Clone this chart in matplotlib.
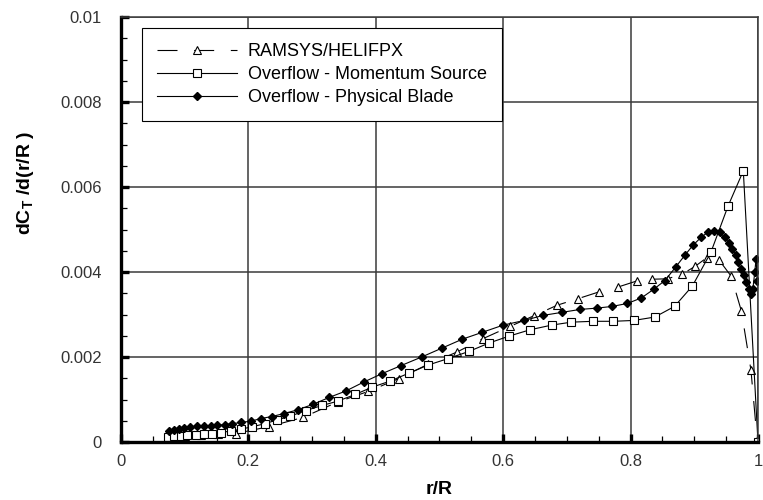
import matplotlib
matplotlib.use("Agg")
import matplotlib.pyplot as plt
from matplotlib.ticker import MultipleLocator

plt.rcParams['font.family'] = ['Liberation Sans', 'DejaVu Sans']
plt.rcParams['mathtext.fontset'] = 'custom'
plt.rcParams['mathtext.rm'] = 'Liberation Sans'
plt.rcParams['mathtext.bf'] = 'Liberation Sans:bold'

# RAMSYS/HELIFPX (triangles, dashed)
ram_x = [0.075, 0.100, 0.126, 0.152, 0.180, 0.232, 0.286, 0.340, 0.388, 0.436, 0.482,
         0.528, 0.568, 0.611, 0.648, 0.685, 0.717, 0.750, 0.781, 0.810, 0.834, 0.858,
         0.881, 0.901, 0.920, 0.939, 0.958, 0.974, 0.989, 0.999]
ram_y = [0.00012, 0.00014, 0.00016, 0.00018, 0.00020, 0.00036, 0.00058, 0.00094, 0.00119,
         0.00149, 0.00183, 0.00212, 0.00243, 0.00272, 0.00297, 0.00322, 0.00337, 0.00353,
         0.00365, 0.00379, 0.00383, 0.00384, 0.00395, 0.00413, 0.00434, 0.00428, 0.00390,
         0.00308, 0.00169, 0.0]

# Overflow - Momentum Source (open squares)
mom_x = [0.073, 0.083, 0.094, 0.104, 0.117, 0.130, 0.143, 0.157, 0.172, 0.188, 0.206,
         0.226, 0.245, 0.266, 0.290, 0.316, 0.340, 0.368, 0.394, 0.422, 0.452, 0.482,
         0.513, 0.546, 0.578, 0.609, 0.642, 0.676, 0.707, 0.741, 0.773, 0.805, 0.838,
         0.869, 0.897, 0.926, 0.953, 0.977, 1.0]
mom_y = [0.00012, 0.00013, 0.00015, 0.00016, 0.00017, 0.00019, 0.00020, 0.00022, 0.00026,
         0.00030, 0.00036, 0.00043, 0.00052, 0.00061, 0.00074, 0.00086, 0.00096, 0.00112,
         0.00129, 0.00143, 0.00162, 0.00181, 0.00196, 0.00213, 0.00233, 0.00249, 0.00264,
         0.00275, 0.00282, 0.00284, 0.00284, 0.00286, 0.00294, 0.00319, 0.00367, 0.00446,
         0.00555, 0.00638, 0.0]

# Overflow - Physical Blade (filled diamonds)
phy_x = [0.075, 0.083, 0.091, 0.099, 0.109, 0.120, 0.130, 0.141, 0.151, 0.163, 0.175,
         0.188, 0.204, 0.219, 0.237, 0.256, 0.278, 0.302, 0.327, 0.353, 0.381, 0.410,
         0.440, 0.472, 0.504, 0.536, 0.567, 0.600, 0.633, 0.663, 0.692, 0.721, 0.747,
         0.771, 0.795, 0.817, 0.836, 0.854, 0.871, 0.885, 0.898, 0.911, 0.921, 0.931,
         0.940, 0.948, 0.954, 0.960, 0.965, 0.969, 0.973, 0.978, 0.982, 0.986, 0.989,
         0.992, 0.995, 0.997, 0.999]
phy_y = [0.00025, 0.00029, 0.00031, 0.00033, 0.00035, 0.00037, 0.00038, 0.00038, 0.00039,
         0.00041, 0.00043, 0.00046, 0.00049, 0.00055, 0.00060, 0.00067, 0.00076, 0.00089,
         0.00105, 0.00120, 0.00141, 0.00161, 0.00180, 0.00200, 0.00221, 0.00242, 0.00258,
         0.00275, 0.00286, 0.00298, 0.00305, 0.00312, 0.00315, 0.00319, 0.00326, 0.00339,
         0.00359, 0.00380, 0.00412, 0.00439, 0.00463, 0.00482, 0.00493, 0.00496, 0.00493,
         0.00482, 0.00469, 0.00455, 0.00439, 0.00424, 0.00408, 0.00392, 0.00376, 0.00361,
         0.00349, 0.00360, 0.00400, 0.00431, 0.00380]

x_ticks = [0, 0.2, 0.4, 0.6, 0.8, 1.0]
x_labels = ['0', '0.2', '0.4', '0.6', '0.8', '1']
y_ticks = [0, 0.002, 0.004, 0.006, 0.008, 0.01]
y_labels = ['0', '0.002', '0.004', '0.006', '0.008', '0.01']

fig = plt.figure(figsize=(7.63, 5.0), dpi=100)
ax = fig.add_axes([0.1586, 0.116, 0.8348, 0.850])

ax.plot(ram_x, ram_y, color='black', lw=0.8, dashes=(18, 15), marker='^',
        markersize=6, markerfacecolor='white', markeredgecolor='black',
        markeredgewidth=0.8, label='RAMSYS/HELIFPX')
ax.plot(mom_x, mom_y, color='black', lw=0.8, marker='s', markersize=5.5,
        markerfacecolor='white', markeredgecolor='black', markeredgewidth=0.8,
        label='Overflow - Momentum Source')
ax.plot(phy_x, phy_y, color='black', lw=0.8, marker='D', markersize=3.6,
        markerfacecolor='black', markeredgecolor='black',
        label='Overflow - Physical Blade')

ax.set_xlim(0, 1)
ax.set_ylim(0, 0.01)
ax.set_xticks(x_ticks)
ax.set_xticklabels(x_labels)
ax.set_yticks(y_ticks)
ax.set_yticklabels(y_labels)
ax.xaxis.set_minor_locator(MultipleLocator(0.05))
ax.yaxis.set_minor_locator(MultipleLocator(0.0005))

ax.grid(True, which='major', color='#3a3a3a', lw=1.1)
ax.set_axisbelow(True)

for side in ['left', 'bottom']:
    ax.spines[side].set_linewidth(2.4)
for side in ['top', 'right']:
    ax.spines[side].set_linewidth(1.1)
    ax.spines[side].set_color('#3a3a3a')

ax.tick_params(which='major', direction='in', length=6, width=2.4,
               labelsize=12, labelcolor='#333333')
ax.tick_params(which='minor', direction='in', length=4, width=0.9)
ax.tick_params(axis='y', which='major', pad=14)
ax.tick_params(axis='x', which='major', pad=9)

ax.set_xlabel('r/R', fontsize=14, fontweight='bold', labelpad=8)
ax.set_ylabel(r'dC$_{\mathbf{T}}$ /d(r/R )', fontsize=14, fontweight='bold')
ax.yaxis.set_label_coords(-0.133, 0.61)

leg = ax.legend(loc='upper left', bbox_to_anchor=(0.033, 0.974), fontsize=13,
                frameon=True, fancybox=False, edgecolor='black', framealpha=1,
                handlelength=4.4, borderpad=0.85, labelspacing=0.32,
                handletextpad=0.6, borderaxespad=0)
leg.get_frame().set_linewidth(0.8)

fig.savefig('out.png', dpi=100)
